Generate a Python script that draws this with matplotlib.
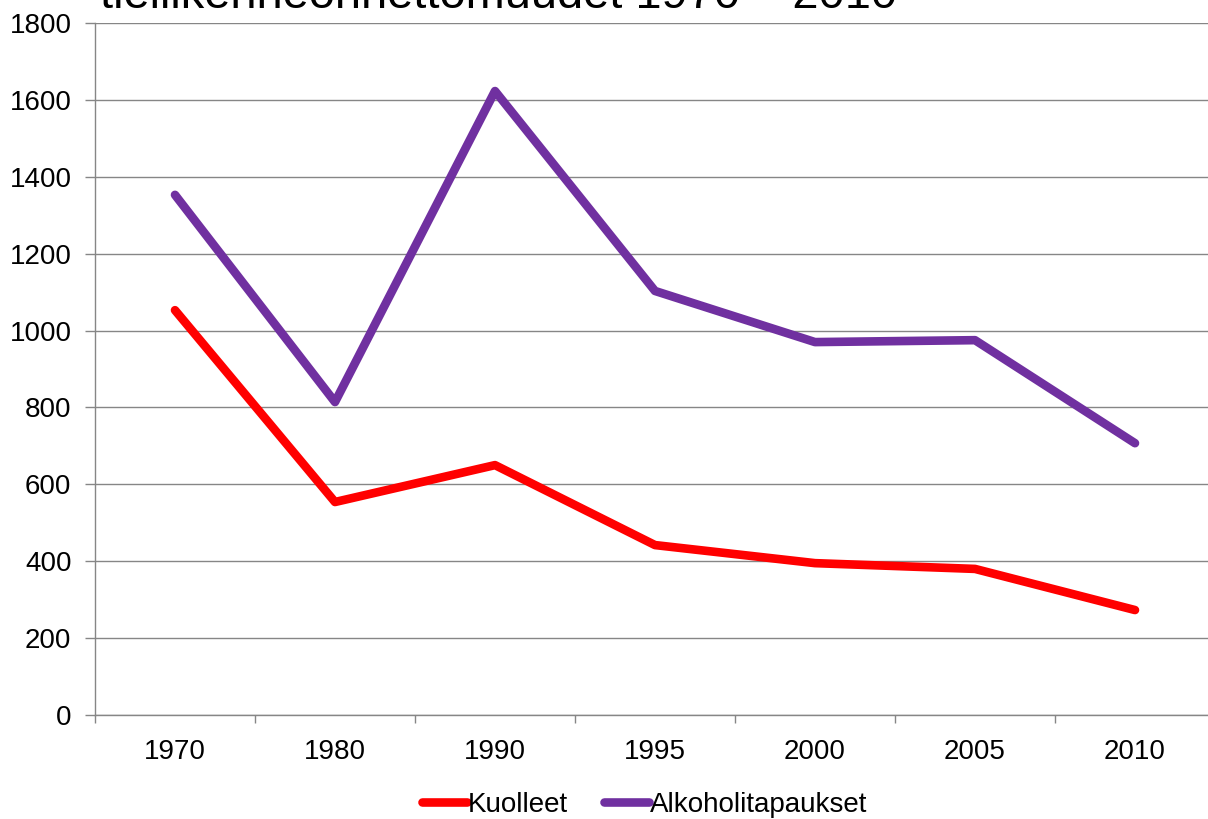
import matplotlib
matplotlib.use("Agg")
import matplotlib.pyplot as plt

years = ["1970", "1980", "1990", "1995", "2000", "2005", "2010"]
kuolleet = [1053, 554, 650, 442, 395, 380, 273]
alkoholi = [1353, 814, 1623, 1103, 970, 975, 707]
yticks = [0, 200, 400, 600, 800, 1000, 1200, 1400, 1600, 1800]
title = "tieliikenneonnettomuudet 1970 – 2010"

plt.rcParams['font.family'] = ['Liberation Sans', 'DejaVu Sans']

fig = plt.figure(figsize=(12.08, 8.19), dpi=100)
W, H = 1208, 819
left, right, top, bottom = 95, 1215, 23, 715
ax = fig.add_axes([left / W, 1 - bottom / H, (right - left) / W, (bottom - top) / H])

x = list(range(len(years)))
ax.plot(x, kuolleet, color="#FF0000", lw=6.2, solid_capstyle="round", solid_joinstyle="round", label="Kuolleet")
ax.plot(x, alkoholi, color="#7030A0", lw=6.2, solid_capstyle="round", solid_joinstyle="round", label="Alkoholitapaukset")

ax.set_xlim(-0.5, len(years) - 0.5)
ax.set_ylim(0, 1800)
ax.set_yticks(yticks)
ax.set_yticklabels([str(v) for v in yticks], fontsize=20)
ax.set_xticks(x)
ax.set_xticklabels(years, fontsize=20)
ax.set_xticks([i - 0.5 for i in range(len(years) + 1)], minor=True)
ax.tick_params(axis='x', which='major', length=0, pad=17)
ax.tick_params(axis='x', which='minor', length=6, color="#868686", width=1, direction='out')
ax.tick_params(axis='y', length=7, color="#868686", width=1, pad=10)
ax.grid(axis='y', color="#868686", lw=1)
ax.set_axisbelow(True)
for s in ['top', 'right']:
    ax.spines[s].set_visible(False)
for s in ['left', 'bottom']:
    ax.spines[s].set_color("#868686")
    ax.spines[s].set_linewidth(1)

fig.text(100 / W, 1 - 8 / H, title, fontsize=33.8, ha='left', va='baseline')

fig.legend(loc='center', bbox_to_anchor=(645 / W, 1 - 805 / H), ncol=2, frameon=False,
           fontsize=20, handlelength=1.6, handletextpad=0.05, columnspacing=1.3)

fig.savefig("out.png", dpi=100)
